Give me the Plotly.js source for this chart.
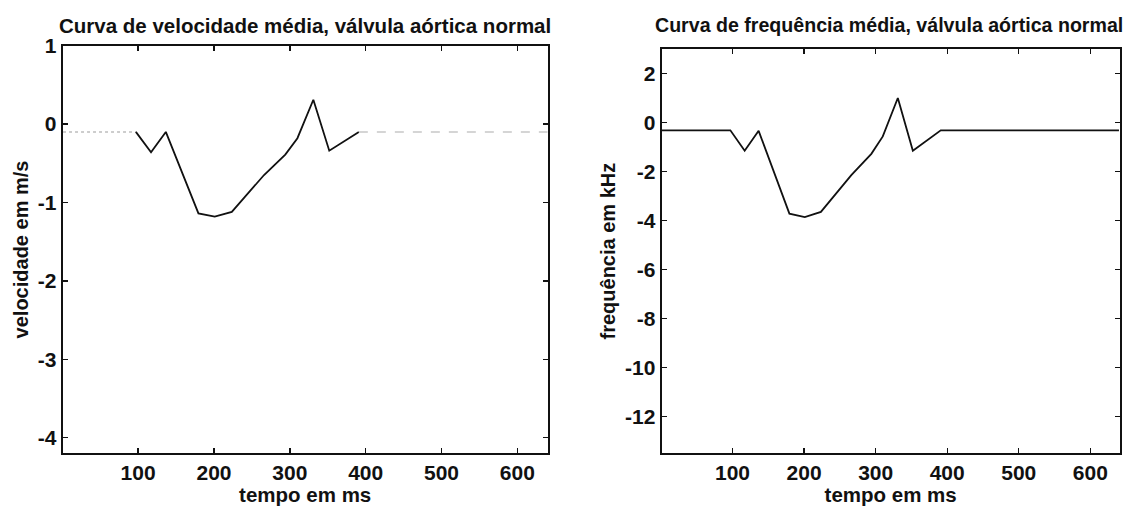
<!DOCTYPE html>
<html><head><meta charset="utf-8">
<script src="https://cdn.plot.ly/plotly-3.0.1.min.js"></script>
<style>html,body{margin:0;padding:0;background:#fff}#chart{width:1127px;height:506px}</style>
</head><body><div id="chart"></div>
<script>
// time vertices (ms)
const tempo = [1, 97, 117, 136.5, 179.5, 201, 223.5, 266, 294, 310, 331, 352, 391, 640];
// mean velocity (m/s)
const velocidade = [-0.1, -0.1, -0.36, -0.1, -1.14, -1.18, -1.12, -0.65, -0.39, -0.18, 0.31, -0.34, -0.1, -0.1];
// mean frequency (kHz)
const frequencia = [-0.32, -0.32, -1.15, -0.34, -3.72, -3.86, -3.65, -2.15, -1.28, -0.57, 1.0, -1.15, -0.32, -0.32];
const xTicks = [100, 200, 300, 400, 500, 600];
const yTicksV = [-4, -3, -2, -1, 0, 1];
const yTicksF = [-12, -10, -8, -6, -4, -2, 0, 2];
const titles = ["Curva de velocidade média, válvula aórtica normal", "Curva de frequência média, válvula aórtica normal"];
const xTitle = "tempo em ms";
const yTitles = ["velocidade em m/s", "frequência em kHz"];

const FONT = "Liberation Sans, Arial, sans-serif";
const ink = "#111";

const traces = [
  {x: tempo.slice(0, 2), y: velocidade.slice(0, 2), xaxis: "x", yaxis: "y", mode: "lines",
   line: {color: "#bdbdbd", width: 1.5, dash: "dot"}, hoverinfo: "skip"},
  {x: tempo.slice(1, 13), y: velocidade.slice(1, 13), xaxis: "x", yaxis: "y", mode: "lines",
   line: {color: ink, width: 1.8}},
  {x: tempo.slice(12), y: velocidade.slice(12), xaxis: "x", yaxis: "y", mode: "lines",
   line: {color: "#c8c8c8", width: 1.5, dash: "dash"}, hoverinfo: "skip"},
  {x: tempo, y: frequencia, xaxis: "x2", yaxis: "y2", mode: "lines",
   line: {color: ink, width: 1.8}}
];

function xax(domain, anchor, range) {
  return {domain: domain, anchor: anchor, range: range, tickvals: xTicks, ticktext: xTicks.map(String),
    ticks: "inside", ticklen: 5, tickwidth: 1.4, tickcolor: ink, showline: true, linecolor: ink, linewidth: 2,
    mirror: "ticks", showgrid: false, zeroline: false,
    tickfont: {family: FONT, size: 21, color: ink, weight: "bold"},
    ticklabelstandoff: 0,
    title: {text: xTitle, font: {family: FONT, size: 20.5, color: ink, weight: "bold"}, standoff: 5}};
}
function yax(domain, anchor, range, ticks, title) {
  return {domain: domain, anchor: anchor, range: range, tickvals: ticks, ticktext: ticks.map(String),
    ticks: "inside", ticklen: 5, tickwidth: 1.4, tickcolor: ink, showline: true, linecolor: ink, linewidth: 2,
    mirror: "ticks", showgrid: false, zeroline: false,
    tickfont: {family: FONT, size: 21, color: ink, weight: "bold"},
    ticklabelstandoff: 0,
    title: {text: title, font: {family: FONT, size: 20, color: ink, weight: "bold"}, standoff: 4}};
}

const layout = {
  width: 1127, height: 506, margin: {l: 0, r: 0, t: 0, b: 0},
  paper_bgcolor: "#fff", plot_bgcolor: "#fff", showlegend: false,
  xaxis: xax([0.0556, 0.486], "y", [0.5, 640]),
  yaxis: yax([0.1042, 0.9097], "x", [-4.2, 1], yTicksV, yTitles[0]),
  xaxis2: xax([0.5871, 0.9935], "y2", [1, 641]),
  yaxis2: yax([0.1042, 0.9032], "x2", [-13.5, 3], yTicksF, yTitles[1]),
  annotations: [
    {text: titles[0], xref: "paper", yref: "paper", x: 304.5 / 1127, y: 1 - 25 / 506, xanchor: "center", yanchor: "middle",
     showarrow: false, font: {family: FONT, size: 20.5, color: ink, weight: "bold"}},
    {text: titles[1], xref: "paper", yref: "paper", x: 889 / 1127, y: 1 - 25 / 506, xanchor: "center", yanchor: "middle",
     showarrow: false, font: {family: FONT, size: 19.6, color: ink, weight: "bold"}}
  ]
};
Plotly.newPlot("chart", traces, layout, {displayModeBar: false, staticPlot: true});
</script></body></html>
